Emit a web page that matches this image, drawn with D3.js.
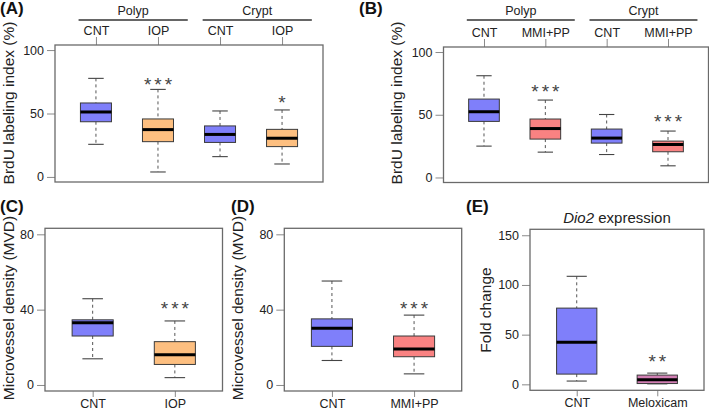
<!DOCTYPE html>
<html>
<head>
<meta charset="utf-8">
<script src="https://cdn.jsdelivr.net/npm/d3@7"></script>
<style>
  html, body { margin: 0; padding: 0; background: #fff; }
  svg { display: block; font-family: "Liberation Sans", Arial, sans-serif; }
</style>
</head>
<body>
<svg id="chart" width="709" height="410"></svg>
<script>
// ---------------- DATA ----------------
// five-number summaries: [lower whisker, Q1, median, Q3, upper whisker]
const catsA = ["CNT", "IOP", "CNT", "IOP"];
const groupsA = ["Polyp", "Crypt"];
const statsA = [
  [25.7, 43.5, 51.2, 58.3, 77.7],
  [3.9, 27.8, 37.3, 45.7, 69.0],
  [16.0, 27.2, 33.5, 40.2, 52.0],
  [10.2, 23.9, 30.5, 37.5, 52.8]
];
const starsA = ["", "***", "", "*"];
const starValA = [null, 76.4, null, 62.0];

const catsB = ["CNT", "MMI+PP", "CNT", "MMI+PP"];
const groupsB = ["Polyp", "Crypt"];
const statsB = [
  [25.0, 44.7, 52.4, 62.5, 81.1],
  [20.2, 30.6, 39.0, 46.6, 61.7],
  [18.3, 27.4, 31.4, 38.6, 50.2],
  [9.3, 20.5, 26.3, 29.0, 37.0]
];
const starsB = ["", "***", "", "***"];
const starValB = [null, 72.4, null, 48.2];

const catsC = ["CNT", "IOP"];
const statsC = [
  [13.9, 26.0, 33.0, 34.6, 45.8],
  [3.9, 10.9, 16.0, 23.0, 34.0]
];
const starsC = ["", "***"];
const starValC = [null, 43.2];

const catsD = ["CNT", "MMI+PP"];
const statsD = [
  [13.0, 20.5, 30.1, 35.1, 55.2],
  [5.9, 15.0, 19.1, 26.0, 37.1]
];
const starsD = ["", "***"];
const starValD = [null, 43.2];

const catsE = ["CNT", "Meloxicam"];
const statsE = [
  [3.3, 10.3, 42.3, 76.7, 108.7],
  [0.5, 0.8, 4.7, 9.3, 11.3]
];
const starsE = ["", "**"];
const starValE = [null, 27.3];

const ticksBrdU = [0, 50, 100];
const ticksMVD = [0, 40, 80];
const ticksFold = [0, 50, 100, 150];

// ---------------- STYLE ----------------
const colorOf = {
  "CNT": "#7f7ffa",
  "IOP": "#fdbf80",
  "MMI+PP": "#f98282",
  "Meloxicam": "#d27fb4"
};
const FONT = "'Liberation Sans', Arial, sans-serif";
const svg = d3.select("#chart");

function panel(opt) {
  const n = opt.cats.length;
  const pad = 0.04 * n;
  const x = d3.scaleLinear().domain([0.5 - pad, n + 0.5 + pad]).range([opt.left, opt.right]);
  const y = d3.scaleLinear().domain(opt.ydom).range([opt.bottom, opt.top]);
  const g = svg.append("g");

  // left axis
  const ly = g.append("g").attr("transform", `translate(${opt.left},0)`)
    .call(d3.axisLeft(y).tickValues(opt.yticks).tickSize(8).tickPadding(3).tickFormat(d3.format("d")));
  ly.select(".domain").remove();
  ly.selectAll("line").attr("stroke", "#8a8a8a");
  ly.selectAll("text").attr("font-size", "12.5px").attr("fill", "#222").attr("font-family", FONT);

  // category axis
  const idx = d3.range(1, n + 1);
  const axisFn = opt.topAxis ? d3.axisTop(x) : d3.axisBottom(x);
  const ax = g.append("g").attr("transform", `translate(0,${opt.topAxis ? opt.top : opt.bottom})`)
    .call(axisFn.tickValues(idx).tickSize(opt.topAxis ? 8 : 6).tickPadding(2).tickFormat(i => opt.cats[i - 1]));
  ax.select(".domain").remove();
  ax.selectAll("line").attr("stroke", "#8a8a8a");
  ax.selectAll("text").attr("font-size", "12.5px").attr("fill", "#222").attr("font-family", FONT);

  // group headers
  if (opt.groups) {
    opt.groups.forEach((gname, gi) => {
      const a = x(gi * 2 + 1 - 0.28), b = x(gi * 2 + 2 + 0.48);
      g.append("line").attr("x1", a).attr("x2", b).attr("y1", 20).attr("y2", 20)
        .attr("stroke", "#333").attr("stroke-width", 1.6);
      g.append("text").attr("x", (a + b) / 2).attr("y", 15).attr("text-anchor", "middle")
        .attr("font-size", "12.5px").attr("fill", "#222").text(gname);
    });
  }

  // boxes
  const hw = 0.25, cw = 0.125;
  opt.stats.forEach((s, i) => {
    const cx = x(i + 1);
    const [lo, q1, med, q3, hi] = s;
    const bx = g.append("g");
    bx.append("line").attr("x1", cx).attr("x2", cx).attr("y1", y(hi)).attr("y2", y(q3))
      .attr("stroke", "#555").attr("stroke-dasharray", "3,3").attr("stroke-width", 1);
    bx.append("line").attr("x1", cx).attr("x2", cx).attr("y1", y(q1)).attr("y2", y(lo))
      .attr("stroke", "#555").attr("stroke-dasharray", "3,3").attr("stroke-width", 1);
    [lo, hi].forEach(v => bx.append("line")
      .attr("x1", x(i + 1 - cw)).attr("x2", x(i + 1 + cw)).attr("y1", y(v)).attr("y2", y(v))
      .attr("stroke", "#444").attr("stroke-width", 1.1));
    bx.append("rect").attr("x", x(i + 1 - hw)).attr("width", x(i + 1 + hw) - x(i + 1 - hw))
      .attr("y", y(q3)).attr("height", y(q1) - y(q3))
      .attr("fill", colorOf[opt.cats[i]]).attr("stroke", "#3a3a3a").attr("stroke-width", 1);
    bx.append("line").attr("x1", x(i + 1 - hw)).attr("x2", x(i + 1 + hw)).attr("y1", y(med)).attr("y2", y(med))
      .attr("stroke", "#000").attr("stroke-width", 3);
    if (opt.stars[i]) {
      g.append("text").attr("x", cx + 1.5).attr("y", y(opt.starVal[i]) + 11)
        .attr("text-anchor", "middle").attr("font-size", "19px").attr("letter-spacing", "3px")
        .attr("fill", "#444").text(opt.stars[i]);
    }
  });

  // frame
  g.append("rect").attr("x", opt.left).attr("y", opt.top)
    .attr("width", opt.right - opt.left).attr("height", opt.bottom - opt.top)
    .attr("fill", "none").attr("stroke", "#6a6a6a").attr("stroke-width", 1.3);

  // y title
  g.append("text").attr("transform", `translate(${opt.ytx},${opt.yty}) rotate(-90)`)
    .attr("text-anchor", "middle").attr("font-size", "15.5px").attr("fill", "#222").text(opt.ytitle);

  // panel label
  g.append("text").attr("x", opt.lx).attr("y", opt.ly).attr("font-size", "17px")
    .attr("font-weight", "bold").attr("fill", "#111").text(opt.label);
  return g;
}

panel({ cats: catsA, groups: groupsA, stats: statsA, stars: starsA, starVal: starValA,
  left: 55, right: 323, top: 45, bottom: 182, ydom: [-4, 104], yticks: ticksBrdU, topAxis: true,
  ytitle: "BrdU labeling index (%)", ytx: 14, yty: 103, label: "(A)", lx: 0, ly: 14 });

panel({ cats: catsB, groups: groupsB, stats: statsB, stars: starsB, starVal: starValB,
  left: 443.5, right: 708.5, top: 47, bottom: 182.5, ydom: [-4, 104], yticks: ticksBrdU, topAxis: true,
  ytitle: "BrdU labeling index (%)", ytx: 402, yty: 103, label: "(B)", lx: 359, ly: 14 });

panel({ cats: catsC, stats: statsC, stars: starsC, starVal: starValC,
  left: 45, right: 222.5, top: 228.3, bottom: 391, ydom: [-3.2, 83.2], yticks: ticksMVD, topAxis: false,
  ytitle: "Microvessel density (MVD)", ytx: 14, yty: 308, label: "(C)", lx: 0, ly: 212 });

panel({ cats: catsD, stats: statsD, stars: starsD, starVal: starValD,
  left: 284.3, right: 461.7, top: 228.3, bottom: 391, ydom: [-3.2, 83.2], yticks: ticksMVD, topAxis: false,
  ytitle: "Microvessel density (MVD)", ytx: 243, yty: 308, label: "(D)", lx: 231, ly: 212 });

const gE = panel({ cats: catsE, stats: statsE, stars: starsE, starVal: starValE,
  left: 530, right: 704, top: 229.3, bottom: 390.3, ydom: [-6, 156], yticks: ticksFold, topAxis: false,
  ytitle: "Fold change", ytx: 491, yty: 310, label: "(E)", lx: 466, ly: 212 });

const tE = gE.append("text").attr("x", 617).attr("y", 223).attr("text-anchor", "middle")
  .attr("font-size", "15px").attr("fill", "#222");
tE.append("tspan").attr("font-style", "italic").text("Dio2");
tE.append("tspan").text(" expression");
</script>
</body>
</html>
